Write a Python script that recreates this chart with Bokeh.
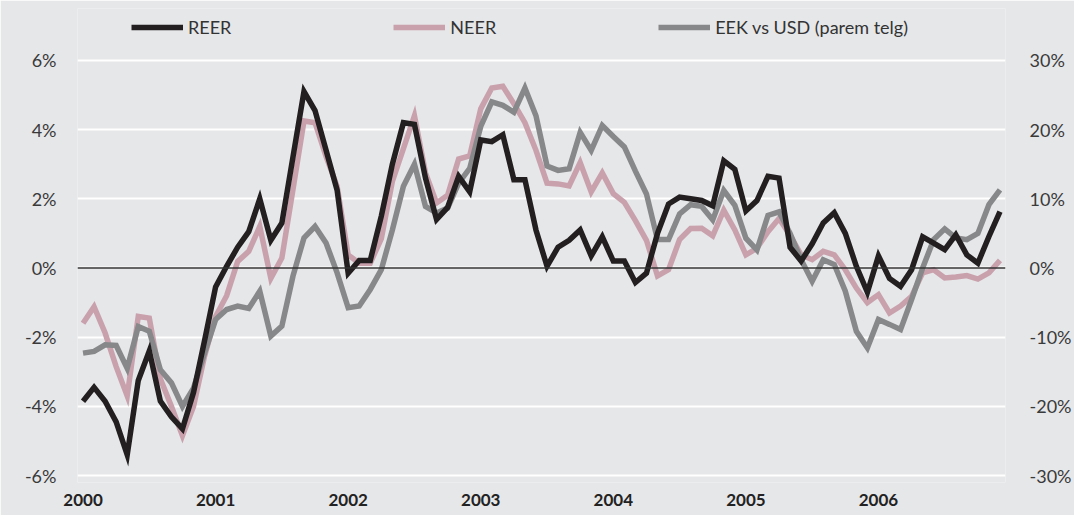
from bokeh.plotting import figure
from bokeh.models import (Range1d, LinearAxis, FixedTicker, CustomJSTickFormatter,
                          Legend, LegendItem, Span, ColumnDataSource)
from bokeh.embed import file_html
from bokeh.resources import INLINE

# Monthly observations Jan 2000 .. Dec 2006
years = ["2000", "2001", "2002", "2003", "2004", "2005", "2006"]

reer = [-3.85, -3.45, -3.85, -4.45, -5.4, -3.25, -2.4, -3.85, -4.3, -4.65, -3.6, -2.1,
        -0.55, 0.05, 0.6, 1.05, 2.0, 0.8, 1.3, 3.2, 5.1, 4.55, 3.4, 2.25,
        -0.15, 0.22, 0.22, 1.5, 3.0, 4.2, 4.15, 2.6, 1.4, 1.75, 2.65, 2.2,
        3.7, 3.65, 3.85, 2.55, 2.55, 1.1, 0.05, 0.6, 0.8, 1.1, 0.35, 0.9,
        0.2, 0.2, -0.42, -0.15, 1.0, 1.85, 2.05, 2.0, 1.95, 1.8, 3.1, 2.85,
        1.65, 1.95, 2.65, 2.6, 0.6, 0.2, 0.7, 1.3, 1.6, 1.0, 0.05, -0.7,
        0.35, -0.3, -0.53, -0.05, 0.9, 0.72, 0.53, 0.96, 0.38, 0.14, 0.91, 1.63]

neer = [-1.6, -1.12, -1.88, -2.85, -3.7, -1.4, -1.45, -3.2, -4.0, -4.85, -4.0, -2.55,
        -1.4, -0.8, 0.19, 0.48, 1.2, -0.3, 0.29, 2.26, 4.25, 4.2, 3.22, 2.36,
        0.38, 0.14, 0.14, 0.85, 2.5, 3.45, 4.4, 2.75, 1.88, 2.1, 3.15, 3.24,
        4.6, 5.2, 5.25, 4.75, 4.2, 3.4, 2.45, 2.43, 2.37, 3.05, 2.2, 2.75,
        2.15, 1.9, 1.37, 0.8, -0.23, -0.05, 0.82, 1.14, 1.15, 0.93, 1.67, 1.1,
        0.38, 0.57, 1.05, 1.43, 0.95, 0.38, 0.24, 0.48, 0.38, -0.05, -0.58, -1.0,
        -0.77, -1.3, -1.1, -0.82, -0.14, -0.05, -0.29, -0.26, -0.22, -0.32, -0.14, 0.22]

eek_usd = [-12.3, -12.05, -11.1, -11.2, -14.5, -8.45, -9.15, -14.7, -16.6, -20.0, -17.35, -12.3,
           -7.45, -6.0, -5.5, -5.85, -3.35, -9.85, -8.4, -1.2, 4.35, 6.0, 3.6, -0.7,
           -5.75, -5.5, -3.1, -0.25, 5.5, 11.8, 15.0, 8.9, 7.95, 8.65, 12.25, 14.4,
           20.45, 24.0, 23.5, 22.5, 26.0, 22.0, 14.75, 14.1, 14.35, 19.6, 17.0, 20.6,
           19.0, 17.5, 14.0, 10.7, 4.1, 4.1, 7.8, 9.15, 8.9, 6.95, 11.2, 9.05,
           4.3, 2.6, 7.6, 8.1, 5.0, 1.2, -1.9, 1.2, 0.5, -3.35, -9.15, -11.55,
           -7.45, -8.15, -8.9, -4.55, 0.0, 4.1, 5.65, 4.35, 4.1, 5.0, 9.15, 11.3]

left_ticks = [-6, -4, -2, 0, 2, 4, 6]
right_ticks = [-30, -20, -10, 0, 10, 20, 30]

months = list(range(len(reer)))
src = ColumnDataSource(dict(m=months, reer=reer, neer=neer, eek=eek_usd))

BG = "#e6e7e9"
FONT = "Lato"

# frame extends upward (blank) so that the legend lies inside it
p = figure(width=1074, height=515, output_backend="svg", toolbar_location=None,
           x_range=Range1d(-0.5, 83.5), y_range=Range1d(-6.2, 7.5),
           min_border_left=77, min_border_right=62, min_border_top=8, min_border_bottom=33)
p.background_fill_color = BG
p.border_fill_color = BG
p.outline_line_color = None

p.extra_y_ranges = {"usd": Range1d(-31, 37.5)}

# grid
p.xgrid.visible = False
p.ygrid.ticker = FixedTicker(ticks=left_ticks)
p.ygrid.grid_line_color = "white"
p.ygrid.grid_line_width = 2

# axes
fmt = "return tick.toFixed(0) + '%';"
ly = p.yaxis[0]
ly.ticker = FixedTicker(ticks=left_ticks)
ly.formatter = CustomJSTickFormatter(code=fmt)
ly.axis_line_color = None
ly.major_tick_line_color = None
ly.minor_tick_line_color = None
ly.major_label_text_font = FONT
ly.major_label_text_font_size = "18px"
ly.major_label_text_color = "#3a3a3a"
ly.major_label_standoff = 15

ry = LinearAxis(y_range_name="usd", ticker=FixedTicker(ticks=right_ticks),
                formatter=CustomJSTickFormatter(code=fmt))
ry.axis_line_color = None
ry.major_tick_line_color = None
ry.minor_tick_line_color = None
ry.major_label_text_font = FONT
ry.major_label_text_font_size = "18px"
ry.major_label_text_color = "#3a3a3a"
ry.major_label_standoff = 18
p.add_layout(ry, "right")

xa = p.xaxis[0]
xa.ticker = FixedTicker(ticks=[12 * k for k in range(len(years))])
xa.major_label_overrides = {12 * k: y for k, y in enumerate(years)}
xa.axis_line_color = None
xa.major_tick_line_color = None
xa.minor_tick_line_color = None
xa.major_label_text_font = FONT
xa.major_label_text_font_size = "17px"
xa.major_label_text_font_style = "bold"
xa.major_label_text_color = "#222222"
xa.major_label_standoff = 5

p.add_layout(Span(location=0, dimension="width", line_color="#333333", line_width=1.5))

r_neer = p.line("m", "neer", source=src, line_color="#c9a1ad", line_width=5.5, line_join="miter")
r_eek = p.line("m", "eek", source=src, y_range_name="usd", line_color="#87888a", line_width=5.5, line_join="miter")
r_reer = p.line("m", "reer", source=src, line_color="#231f20", line_width=5.5, line_join="miter")

legend = Legend(items=[LegendItem(label="REER", renderers=[r_reer]),
                       LegendItem(label="NEER", renderers=[r_neer]),
                       LegendItem(label="EEK vs USD (parem telg)", renderers=[r_eek])],
                orientation="horizontal", location=(54, 444),
                glyph_width=52, glyph_height=20, label_standoff=5, spacing=162,
                padding=0, margin=0, border_line_color=None, background_fill_alpha=0,
                label_text_font=FONT, label_text_font_size="18px", label_text_color="#333333")
p.add_layout(legend, "center")

open("out.html", "w").write(file_html(p, INLINE))
